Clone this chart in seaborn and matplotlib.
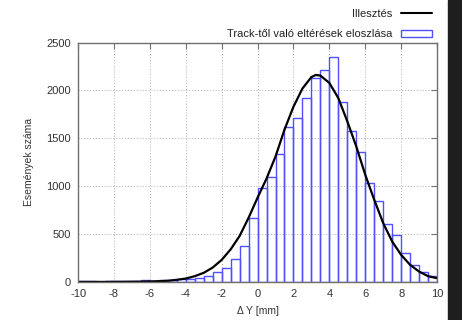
import numpy as np
import pandas as pd
import matplotlib
matplotlib.use("Agg")
import matplotlib.pyplot as plt
import seaborn as sns
from matplotlib.lines import Line2D
from matplotlib.patches import Patch, Rectangle

# hisztogram: 0.5 mm-es binek -10..10 között
bin_edges = [-10 + 0.5 * i for i in range(41)]
counts = [5, 12, 4, 10, 6, 12, 8, 15, 12, 18, 22, 28,
          35, 45, 63, 105, 143, 240, 370, 666,
          980, 1100, 1340, 1615, 1712, 1920, 2130, 2210,
          2346, 1875, 1572, 1352, 1038, 840, 607, 488,
          306, 178, 108, 66]

# illesztett görbe (leolvasott pontok)
fit_x = [-10, -9.5, -9, -8.5, -8, -7.5, -7, -6.5, -6, -5.5, -5, -4.5, -4, -3.5,
         -3, -2.5, -2, -1.5, -1, -0.5, 0, 0.5, 1, 1.5, 2, 2.5, 3, 3.25, 3.5,
         4, 4.5, 5, 5.5, 6, 6.5, 7, 7.5, 8, 8.5, 9, 9.5, 10]
fit_y = [0, 0, 0, 0, 1, 1, 2, 3, 5, 8, 12, 22, 35, 60,
         95, 150, 230, 340, 480, 670, 880, 1080, 1310, 1590, 1830, 2020, 2140, 2162, 2155,
         2078, 1920, 1677, 1415, 1119, 858, 614, 422, 282, 178, 108, 60, 39]

centers = [(a + b) / 2 for a, b in zip(bin_edges[:-1], bin_edges[1:])]
df = pd.DataFrame({"dy": centers, "n": counts})
fit = pd.DataFrame({"x": fit_x, "y": fit_y})

sns.set_theme(style="white")
plt.rcParams['font.family'] = ['Liberation Sans', 'DejaVu Sans']
plt.rcParams['axes.unicode_minus'] = False

fig = plt.figure(figsize=(4.62, 3.2), dpi=100)
ax = fig.add_axes([0.169, 0.119, 0.777, 0.748])

hist_color = "#5050ff"
sns.histplot(data=df, x="dy", weights="n", bins=bin_edges, fill=False,
             element="bars", color=hist_color, linewidth=1.0, ax=ax)
sns.lineplot(data=fit, x="x", y="y", color="black", linewidth=1.6, ax=ax)

ax.set_xlim(-10, 10)
ax.set_ylim(0, 2500)
ax.set_xticks(np.arange(-10, 11, 2))
ax.set_yticks(np.arange(0, 2501, 500))
ax.grid(True, linestyle=(0, (1, 2)), color="#b0b0b0", linewidth=0.7)
ax.set_axisbelow(True)
for s in ax.spines.values():
    s.set_color("#707070")
    s.set_linewidth(1.0)
ax.tick_params(direction="in", top=True, right=True, length=4, width=0.8,
               color="#707070", labelsize=8, labelcolor="#333333", pad=5)
ax.set_xlabel("Δ Y [mm]", fontsize=7.5, color="#333333", labelpad=5)
ax.set_ylabel("Események száma", fontsize=7.5, color="#333333", labelpad=9)

handles = [Line2D([0], [0], color="black", linewidth=1.5),
           Patch(facecolor="white", edgecolor=hist_color, linewidth=1.0)]
labels = ["Illesztés", "Track-től való eltérések eloszlása"]
ax.legend(handles, labels, loc="lower right", bbox_to_anchor=(0.995, 1.0),
          frameon=False, markerfirst=False, fontsize=8, handlelength=2.8,
          handleheight=0.55, labelspacing=0.95, borderaxespad=0.0, borderpad=0.3,
          handletextpad=0.8, labelcolor="#222222")

# sötét sáv a jobb szélen
fig.patches.append(Rectangle((448 / 462, 0), 14 / 462, 1, transform=fig.transFigure,
                             color="#1e1e1e", zorder=0))

fig.savefig("out.png", dpi=100)
